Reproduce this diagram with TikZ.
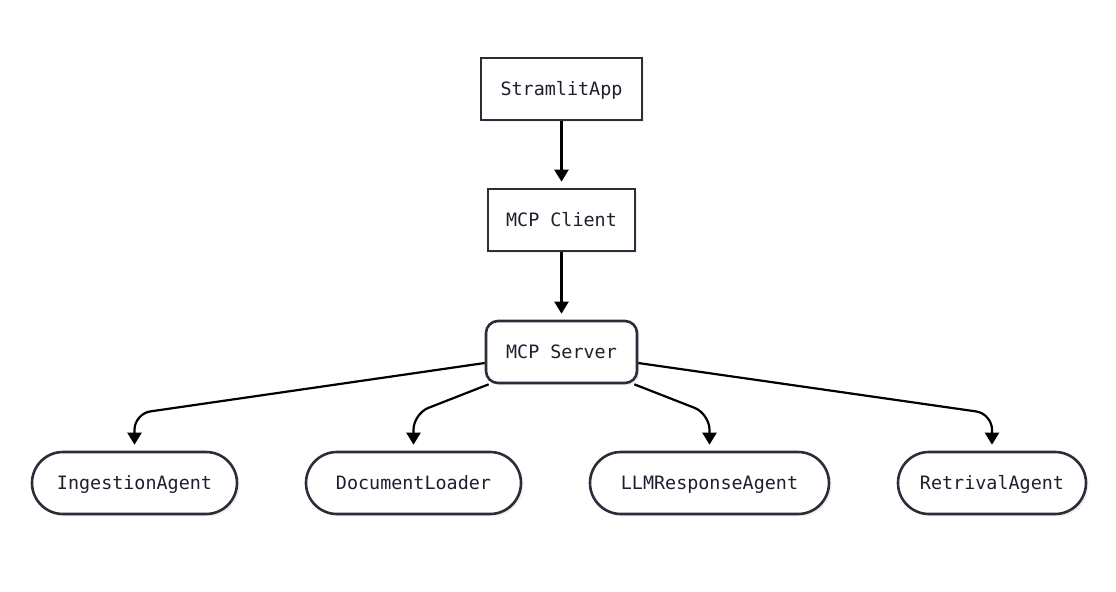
\documentclass[tikz,border=0pt]{standalone}
\usepackage{fontspec}
\setmonofont{DejaVu Sans Mono}
\usepackage{xcolor}
\usepackage{tikz}
\usetikzlibrary{arrows.meta,calc,shadows}
\definecolor{ink}{HTML}{1E1F2E}
\definecolor{edge}{HTML}{2D2D3A}
\tikzset{
  blk/.style={draw=edge, fill=white, line width=1.3pt, align=center,
              font=\ttfamily\fontsize{9.2}{11}\selectfont, text=ink,
              minimum height=31pt, inner sep=2pt, text height=7.8pt, text depth=1.2pt,
              drop shadow={opacity=0.12, shadow xshift=1.2pt, shadow yshift=-1.2pt}},
  srvb/.style={blk, rounded corners=6pt},
  pill/.style={blk, rounded corners=15.5pt},
  arr/.style={-{Triangle[length=6pt, width=7pt]}, line width=1.1pt, draw=black,
              shorten >=3pt},
}

\begin{document}
\begin{tikzpicture}[x=0.5pt, y=-0.5pt]
  \useasboundingbox (0,0) rectangle (1116,591);
  % top chain
  \node[blk, minimum width=80.5pt] (app) at (561.5,89) {StramlitApp};
  \node[blk, minimum width=73.5pt] (client) at (561.5,220) {MCP Client};
  \node[srvb, minimum width=75.5pt] (srv) at (561.5,352) {MCP Server};
  % agents
  \node[pill, minimum width=102.5pt] (ingest) at (134.5,483) {IngestionAgent};
  \node[pill, minimum width=107.5pt] (loader) at (413.5,483) {DocumentLoader};
  \node[pill, minimum width=119.5pt] (llm) at (709.5,483) {LLMResponseAgent};
  \node[pill, minimum width=94pt] (retr) at (992,483) {RetrivalAgent};
  \draw[arr] (app) -- (client);
  \draw[arr] (client) -- (srv);
  \draw[arr, rounded corners=8pt] ($(srv.west)+(0,11)$) -- ($(ingest.north)+(0,-37)$) -- (ingest.north);
  \draw[arr, rounded corners=8pt] ($(srv.south west)+(4,0)$) -- ($(loader.north)+(0,-37)$) -- (loader.north);
  \draw[arr, rounded corners=8pt] ($(srv.south east)+(-4,0)$) -- ($(llm.north)+(0,-37)$) -- (llm.north);
  \draw[arr, rounded corners=8pt] ($(srv.east)+(0,11)$) -- ($(retr.north)+(0,-37)$) -- (retr.north);
\end{tikzpicture}
\end{document}
